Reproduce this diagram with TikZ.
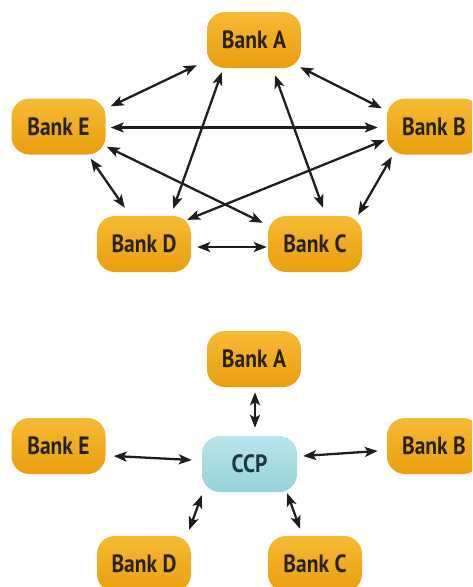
\documentclass[tikz,border=0pt]{standalone}
\usepackage{fontspec}
\usetikzlibrary{arrows.meta}
\newfontfamily\bankfont[FakeStretch=0.86]{PT Sans}
\definecolor{goldtop}{RGB}{246,186,52}
\definecolor{goldbot}{RGB}{234,158,14}
\definecolor{ccptop}{RGB}{185,228,234}
\definecolor{ccpbot}{RGB}{150,210,218}
\definecolor{banktext}{RGB}{40,34,20}
\definecolor{ccptext}{RGB}{30,55,62}
\definecolor{arrcol}{RGB}{30,30,30}
\tikzset{
  bank/.style={rectangle, rounded corners=18pt, minimum width=94pt, minimum height=56pt,
    top color=goldtop, bottom color=goldbot, draw=none, inner sep=0pt,
    font=\bankfont\bfseries\fontsize{25}{25}\selectfont, text=banktext},
  ccp/.style={bank, top color=ccptop, bottom color=ccpbot, minimum width=95pt, text=ccptext},
  arr/.style={draw=arrcol, line width=2.3pt,
    {Stealth[length=13pt,width=10pt,inset=3pt]}-{Stealth[length=13pt,width=10pt,inset=3pt]}}
}
\begin{document}
\begin{tikzpicture}[x=1pt,y=-1pt]
\useasboundingbox (0,0) rectangle (472,587);
\clip (0,0) rectangle (472,587);
% top network
\node[bank] (A) at (254,40) {Bank A};
\node[bank] (E) at (58.5,126.5) {Bank E};
\node[bank] (B) at (434,126.5) {Bank B};
\node[bank] (D) at (144,244) {Bank D};
\node[bank] (C) at (315,244) {Bank C};
\draw[arr] ([xshift=5pt,yshift=-8pt]E.north east) -- ([xshift=-10pt,yshift=3pt]A.south west);
\draw[arr] ([xshift=-1pt,yshift=1pt]A.south east) -- ([xshift=-5pt,yshift=-10pt]B.north west);
\draw[arr] ([xshift=5pt,yshift=-1pt]E.east) -- ([xshift=-9pt,yshift=-1pt]B.west);
\draw[arr] ([xshift=-15pt,yshift=-4pt]E.south east) -- ([xshift=28pt,yshift=8pt]D.north west);
\draw[arr] ([xshift=1pt,yshift=8pt]E.south east) -- ([xshift=-5pt,yshift=-7pt]C.north west);
\draw[arr] ([xshift=15pt,yshift=-4pt]A.south west) -- ([xshift=-18pt,yshift=7pt]D.north east);
\draw[arr] ([xshift=21pt,yshift=-7pt]A.south) -- ([xshift=8pt,yshift=8pt]C.north);
\draw[arr] ([xshift=-2pt,yshift=-13.5pt]B.west) -- ([xshift=-4pt,yshift=-4pt]D.north east);
\draw[arr] ([xshift=5pt,yshift=-2pt]B.south west) -- ([xshift=-4pt,yshift=1pt]C.north east);
\draw[arr] ([xshift=6pt,yshift=-3pt]D.east) -- ([xshift=-1pt,yshift=-3pt]C.west);
% bottom network
\node[bank] (A2) at (254,359) {Bank A};
\node[bank] (E2) at (58.5,446) {Bank E};
\node[bank] (B2) at (434,446) {Bank B};
\node[ccp] (P) at (249.5,464) {CCP};
\node[bank] (D2) at (144,564) {Bank D};
\node[bank] (C2) at (315,564) {Bank C};
\draw[arr] ([xshift=1pt,yshift=-5pt]A2.south) -- ([xshift=5.5pt,yshift=8pt]P.north);
\draw[arr] ([xshift=8pt,yshift=-10pt]E2.east) -- ([xshift=-10pt,yshift=4pt]P.west);
\draw[arr] ([xshift=6pt,yshift=8pt]P.east) -- ([xshift=-9pt,yshift=-5pt]B2.west);
\draw[arr] ([xshift=0pt,yshift=-3pt]P.south west) -- ([xshift=-2pt,yshift=6pt]D2.north east);
\draw[arr] ([xshift=-10pt,yshift=-1pt]P.south east) -- ([xshift=-15pt,yshift=7pt]C2.north);
\end{tikzpicture}
\end{document}
